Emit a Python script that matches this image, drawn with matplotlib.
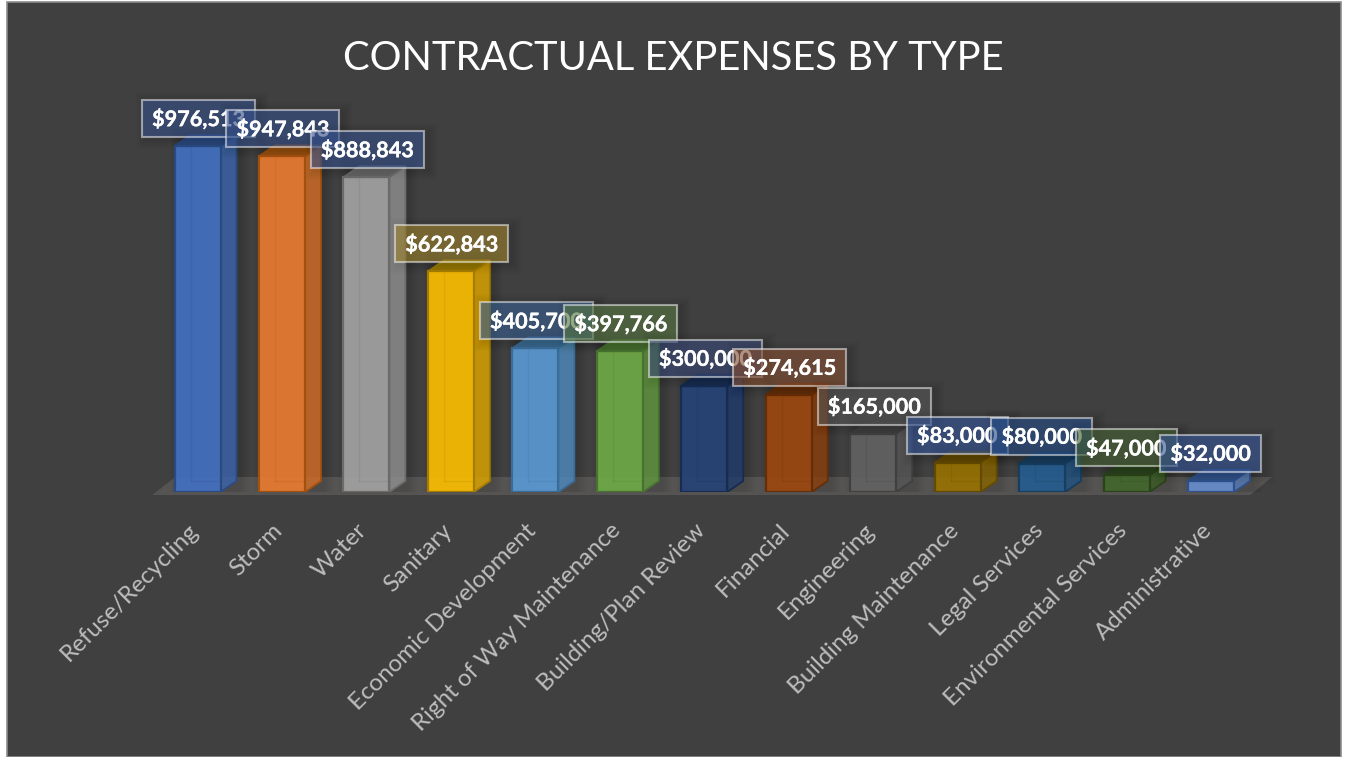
import matplotlib
matplotlib.use("Agg")
import matplotlib.pyplot as plt
import matplotlib.patheffects as pe
from matplotlib.patches import Polygon, Rectangle
from matplotlib.transforms import ScaledTranslation

categories = ["Refuse/Recycling", "Storm", "Water", "Sanitary", "Economic Development",
              "Right of Way Maintenance", "Building/Plan Review", "Financial", "Engineering",
              "Building Maintenance", "Legal Services", "Environmental Services", "Administrative"]
values = [976513, 947843, 888843, 622843, 405700, 397766, 300000, 274615, 165000,
          83000, 80000, 47000, 32000]
colors = ["#4472C4", "#ED7D31", "#A5A5A5", "#FFC000", "#5B9BD5", "#70AD47", "#264478",
          "#9E480E", "#636363", "#997300", "#255E91", "#43682B", "#698ED0"]
edges = ["#2B4A82", "#A4500F", "#6B6B6B", "#A67C00", "#3A6C9A", "#477230", "#172C50",
         "#662E08", "#404040", "#634A00", "#173D5F", "#2B431B", "#2F528F"]
label_fills = ["#3A5590", "#3A5590", "#3A5590", "#A1862E", "#3D6498", "#5C7D48", "#3D4C7B",
               "#8C5436", "#5A5A5A", "#3A5A9E", "#29518C", "#4B6639", "#3A5A9E"]
title = "CONTRACTUAL EXPENSES BY TYPE"

W, H = 1346, 757
BG = "#404040"
plt.rcParams["font.family"] = ["Lato", "DejaVu Sans"]

fig = plt.figure(figsize=(W / 100, H / 100), dpi=100, facecolor="white")
fig.add_artist(Rectangle((6.5 / W, 0), (1340.5 - 6.5) / W, (H - 2) / H, transform=fig.transFigure,
                         facecolor=BG, edgecolor="#8c8c8c", linewidth=1.2, zorder=-5))

step = 84.46
left, right = 197.5 - 0.5 * step, 197.5 + 12.5 * step
base, ppk = 492.0, 0.3543
ymax = 1100000
top = base - ymax / 1000 * ppk
ax = fig.add_axes([left / W, 1 - base / H, (right - left) / W, (base - top) / H], zorder=2)
ax.patch.set_alpha(0)
ax.set_xlim(-0.5, 12.5)
ax.set_ylim(0, ymax)
for s in ax.spines.values():
    s.set_visible(False)

px_x = 1 / step
px_y = 1000 / ppk
bw = 46 * px_x
dx, dy = 16 * px_x, 11 * px_y

# floor
ax.add_patch(Polygon([(-0.5 - 3 * px_x, -3 * px_y), (12.5 - 3 * px_x, -3 * px_y),
                      (12.5 + 19 * px_x, 15 * px_y), (-0.5 + 20 * px_x, 15 * px_y)],
                     closed=True, facecolor="#565453", edgecolor="none", zorder=1, clip_on=False))

# soft shadows behind the columns
for i, v in enumerate(values):
    for g in range(1, 11):
        ax.add_patch(Rectangle((i - bw / 2 - (g - 5) * px_x, 0), bw + dx + 2 * (g - 1) * px_x,
                               v + dy + g * px_y, facecolor="black", alpha=0.013,
                               edgecolor="none", zorder=2, clip_on=False))

for i, (v, c, e) in enumerate(zip(values, colors, edges)):
    l, r = i - bw / 2, i + bw / 2
    ax.bar(i, v, width=bw, color=c, alpha=0.9, edgecolor="none", zorder=5)
    ax.bar(i, v, width=bw, color="none", edgecolor=e, linewidth=1.6, zorder=6)
    side = [(r, 0), (r + dx, dy), (r + dx, v + dy), (r, v)]
    topf = [(l, v), (l + dx, v + dy), (r + dx, v + dy), (r, v)]
    ax.add_patch(Polygon(side, closed=True, facecolor=e, alpha=0.55, zorder=4, edgecolor="none"))
    ax.add_patch(Polygon(side, closed=True, facecolor=c, alpha=0.55, zorder=4, edgecolor="none"))
    ax.add_patch(Polygon(side, closed=True, fill=False, edgecolor=e, linewidth=1.3, zorder=4))
    ax.add_patch(Polygon(topf, closed=True, facecolor=e, alpha=0.85, edgecolor=e, linewidth=1.2, zorder=4))
    ax.plot([l + dx, l + dx], [dy, v], color=e, alpha=0.18, lw=1, zorder=7)
    ax.plot([l + dx, r], [dy, dy], color=e, alpha=0.18, lw=1, zorder=7)

# data labels
for i, (v, f) in enumerate(zip(values, label_fills)):
    text = f"${v:,}"
    big = v >= 100000
    w = (113 if big else 101) * px_x
    h = 37 * px_y
    cy = v + 27.5 * px_y
    z = 10 + i
    cx = i + (1 if big else -0.5) * px_x
    for g in range(1, 11):
        ax.add_patch(Rectangle((cx - w / 2 - (g - 4) * px_x, cy - h / 2 - (g + 2) * px_y),
                               w + 2 * g * px_x, h + 2 * g * px_y, facecolor="black", alpha=0.008,
                               edgecolor="none", zorder=z, clip_on=False))
    ax.add_patch(Rectangle((cx - w / 2, cy - h / 2), w, h, facecolor=f, alpha=0.6,
                           edgecolor="none", zorder=z, clip_on=False))
    ax.add_patch(Rectangle((cx - w / 2, cy - h / 2), w, h, fill=False,
                           edgecolor=(1, 1, 1, 0.5), linewidth=1.5, zorder=z, clip_on=False))
    ax.text(cx, cy - 0.5 * px_y, text, ha="center", va="center", color="white", fontsize=15.6,
            fontweight="bold", zorder=z, clip_on=False,
            path_effects=[pe.withStroke(linewidth=0.2, foreground="white")])

ax.set_yticks([])
ax.set_xticks(range(len(categories)))
ax.set_xticklabels(categories, rotation=45, ha="right", rotation_mode="anchor",
                   fontsize=17.4, color="#bdbdbd")
ax.tick_params(axis="x", length=0, pad=20)
shift = ScaledTranslation(-10 / 100, 0, fig.dpi_scale_trans)
for lab in ax.get_xticklabels():
    lab.set_transform(lab.get_transform() + shift)

fig.text(673 / W, 1 - 58 / H, title, ha="center", va="center", color="white", fontsize=28.7)

fig.savefig("out.png", dpi=100, facecolor=fig.get_facecolor())
